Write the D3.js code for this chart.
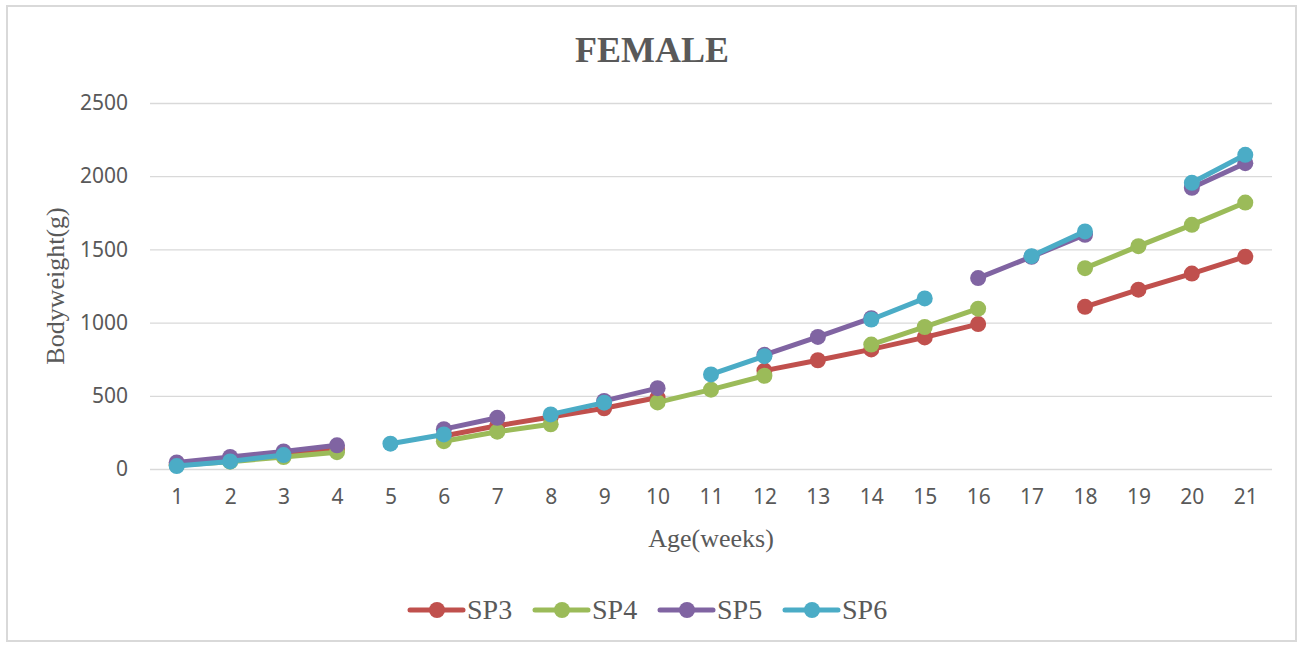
<!DOCTYPE html>
<html>
<head>
<meta charset="utf-8">
<script src="https://d3js.org/d3.v7.min.js"></script>
<style>
  body { margin: 0; background: #fff; }
</style>
</head>
<body>
<div id="lineChart"></div>
<script>
let weeks = [1,2,3,4,5,6,7,8,9,10,11,12,13,14,15,16,17,18,19,20,21];
let seriesNames = ["SP3", "SP4", "SP5", "SP6"];
let sp3 = [30, 62, 95, 135, null, 225, 295, 355, 415, 488, null, 672, 743, 817, 899, 990, null, 1108, 1225, 1335, 1450];
let sp4 = [25, 50, 82, 115, null, 190, 255, 305, null, 455, 542, 637, null, 850, 970, 1095, null, 1372, 1522, 1668, 1820];
let sp5 = [45, 82, 120, 162, null, 272, 350, null, 465, 552, null, 780, 902, 1030, null, 1304, 1450, 1600, null, 1921, 2089];
let sp6 = [20, 52, 95, null, 173, 236, null, 373, 453, null, 646, 771, null, 1021, 1165, null, 1454, 1623, null, 1955, 2146];
let yTicks = [0, 500, 1000, 1500, 2000, 2500];

let colors = ["#C0504D", "#9BBB59", "#8064A2", "#4BACC6"];
let allSeries = [sp3, sp4, sp5, sp6];

let svgWidth = 1299, svgHeight = 647;
let margin = {top: 103, right: 27, bottom: 178, left: 150};

let svg = d3.select("#lineChart").append("svg")
  .attr("width", svgWidth)
  .attr("height", svgHeight);

// outer frame
svg.append("rect")
  .attr("x", 7).attr("y", 6)
  .attr("width", 1289).attr("height", 635)
  .attr("fill", "#fff")
  .attr("stroke", "#d9d9d9")
  .attr("stroke-width", 2);

let xScale = d3.scalePoint()
  .domain(weeks)
  .range([margin.left, svgWidth - margin.right])
  .padding(0.5);

let yScale = d3.scaleLinear()
  .domain([0, 2500])
  .range([svgHeight - margin.bottom, margin.top]);

// gridlines + y labels
let yAxis = d3.axisLeft(yScale)
  .tickValues(yTicks)
  .tickFormat(d3.format("d"))
  .tickSize(-(svgWidth - margin.right - margin.left))
  .tickPadding(22);

let yG = svg.append("g")
  .attr("transform", "translate(" + margin.left + ",0)")
  .call(yAxis);
yG.select(".domain").remove();
yG.selectAll(".tick line").attr("stroke", "#d9d9d9").attr("stroke-width", 1.3);
yG.selectAll(".tick text")
  .attr("fill", "#595959")
  .style("font-family", "'Noto Sans', sans-serif")
  .style("font-size", "21px");

// x labels
let xAxis = d3.axisBottom(xScale).tickSize(0).tickPadding(20);
let xG = svg.append("g")
  .attr("transform", "translate(0," + (svgHeight - margin.bottom) + ")")
  .call(xAxis);
xG.select(".domain").remove();
xG.selectAll(".tick text")
  .attr("fill", "#595959")
  .style("font-family", "'Noto Sans', sans-serif")
  .style("font-size", "21px");

// title and axis titles
svg.append("text")
  .attr("x", 652).attr("y", 62)
  .attr("text-anchor", "middle")
  .attr("fill", "#595959")
  .style("font-family", "'Liberation Serif', serif")
  .style("font-weight", "bold")
  .style("font-size", "36px")
  .text("FEMALE");

svg.append("text")
  .attr("x", 711).attr("y", 547)
  .attr("text-anchor", "middle")
  .attr("fill", "#595959")
  .style("font-family", "'Liberation Serif', serif")
  .style("font-size", "26px")
  .text("Age(weeks)");

svg.append("text")
  .attr("transform", "translate(64,286) rotate(-90)")
  .attr("text-anchor", "middle")
  .attr("fill", "#595959")
  .style("font-family", "'Liberation Serif', serif")
  .style("font-size", "26px")
  .text("Bodyweight(g)");

// lines
let line = d3.line()
  .defined(d => d.v != null)
  .x(d => xScale(d.w))
  .y(d => yScale(d.v));

allSeries.forEach(function(vals, i) {
  let pts = weeks.map((w, j) => ({w: w, v: vals[j]}));
  let g = svg.append("g");
  g.append("path")
    .datum(pts)
    .attr("fill", "none")
    .attr("stroke", colors[i])
    .attr("stroke-width", 5)
    .attr("stroke-linejoin", "round")
    .attr("stroke-linecap", "round")
    .attr("d", line);
  g.selectAll("circle")
    .data(pts.filter(d => d.v != null))
    .enter()
    .append("circle")
    .attr("cx", d => xScale(d.w))
    .attr("cy", d => yScale(d.v))
    .attr("r", 8)
    .attr("fill", colors[i]);
});

// legend
let legend = svg.append("g").attr("transform", "translate(410,610)");
seriesNames.forEach(function(name, i) {
  let item = legend.append("g").attr("transform", "translate(" + (i * 125) + ",0)");
  item.append("line")
    .attr("x1", 0).attr("x2", 53)
    .attr("stroke", colors[i])
    .attr("stroke-width", 5)
    .attr("stroke-linecap", "round");
  item.append("circle")
    .attr("cx", 27).attr("r", 8)
    .attr("fill", colors[i]);
  item.append("text")
    .attr("x", 57).attr("y", 9)
    .attr("fill", "#595959")
    .style("font-family", "'Liberation Serif', serif")
    .style("font-size", "28px")
    .text(name);
});
</script>
</body>
</html>
